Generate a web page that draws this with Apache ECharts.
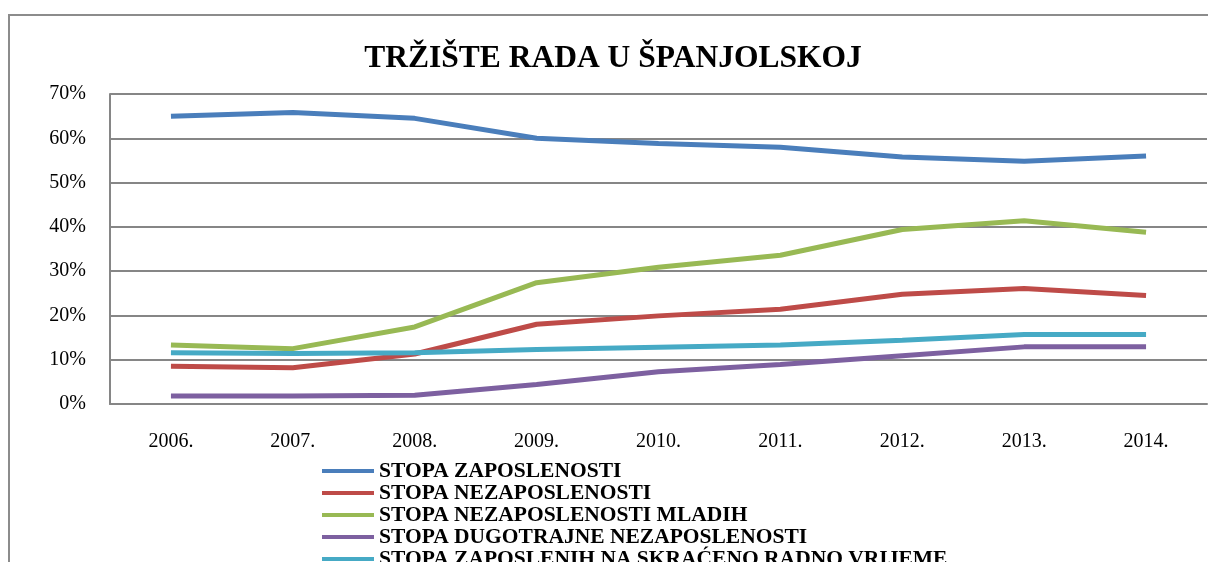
<!DOCTYPE html>
<html>
<head>
    <meta charset="utf-8">
    <style>
        body { margin: 0; background: #fff; }
        .frame {
            position: absolute;
            left: 8px;
            top: 14px;
            width: 1300px;
            height: 700px;
            border: 2px solid #8c8c8c;
        }
        #chart {
            position: absolute;
            left: 0;
            top: 0;
            width: 1208px;
            height: 562px;
        }
    </style>
    <script src="https://cdn.jsdelivr.net/npm/echarts@6/dist/echarts.min.js"></script>
</head>
<body>
<div class="frame"></div>
<div id="chart"></div>
<script type="text/javascript">
    // godine
    var years = ['2006.', '2007.', '2008.', '2009.', '2010.', '2011.', '2012.', '2013.', '2014.'];

    // stope u %
    var zaposlenost = [65.0, 65.8, 64.5, 60.0, 58.8, 58.0, 55.8, 54.8, 56.0];
    var nezaposlenost = [8.5, 8.2, 11.3, 18.0, 19.9, 21.4, 24.8, 26.1, 24.5];
    var nezaposlenostMladih = [13.3, 12.5, 17.4, 27.4, 30.9, 33.6, 39.4, 41.4, 38.8];
    var dugotrajna = [1.8, 1.8, 2.0, 4.4, 7.3, 8.9, 10.9, 12.9, 12.9];
    var skraceno = [11.6, 11.4, 11.6, 12.3, 12.8, 13.3, 14.4, 15.7, 15.7];

    var names = [
        'STOPA ZAPOSLENOSTI',
        'STOPA NEZAPOSLENOSTI',
        'STOPA NEZAPOSLENOSTI MLADIH',
        'STOPA DUGOTRAJNE NEZAPOSLENOSTI',
        'STOPA ZAPOSLENIH NA SKRAĆENO RADNO VRIJEME'
    ];
    var colors = ['#4a7ebb', '#be4b48', '#98b954', '#7d60a0', '#46aac5'];
    var values = [zaposlenost, nezaposlenost, nezaposlenostMladih, dugotrajna, skraceno];

    var serif = '"Liberation Serif", "DejaVu Serif", serif';

    var series = [];
    for (var i = 0; i < names.length; i++) {
        series.push({
            name: names[i],
            type: 'line',
            data: values[i],
            symbol: 'none',
            lineStyle: { width: 5, color: colors[i] },
            itemStyle: { color: colors[i] }
        });
    }

    var myChart = echarts.init(document.getElementById('chart'));
    var option = {
        animation: false,
        title: {
            text: 'TRŽIŠTE RADA U ŠPANJOLSKOJ',
            left: 608,
            textAlign: 'center',
            top: 38,
            textStyle: { fontFamily: serif, fontSize: 31.5, fontWeight: 'bold', color: '#000' }
        },
        legend: {
            orient: 'vertical',
            left: 317,
            top: 455,
            height: 300,
            icon: 'rect',
            itemWidth: 52,
            itemHeight: 4,
            itemGap: 0,
            data: names,
            textStyle: { fontFamily: serif, fontSize: 21.5, fontWeight: 'bold', color: '#000', lineHeight: 22 }
        },
        grid: {
            left: 110,
            right: 1,
            top: 94,
            bottom: 158,
            containLabel: false
        },
        xAxis: {
            type: 'category',
            data: years,
            boundaryGap: true,
            axisLine: { lineStyle: { color: '#868686', width: 2 } },
            axisTick: { show: false },
            axisLabel: { fontFamily: serif, fontSize: 20, color: '#000', margin: 28 }
        },
        yAxis: {
            type: 'value',
            min: 0,
            max: 70,
            interval: 10,
            axisLine: { show: true, lineStyle: { color: '#868686', width: 2 } },
            axisTick: { show: false },
            splitLine: { lineStyle: { color: '#868686', width: 2 } },
            axisLabel: { fontFamily: serif, fontSize: 20, color: '#000', margin: 24, formatter: '{value}%', padding: [4, 0, 0, 0] }
        },
        series: series
    };
    myChart.setOption(option);
</script>
</body>
</html>
